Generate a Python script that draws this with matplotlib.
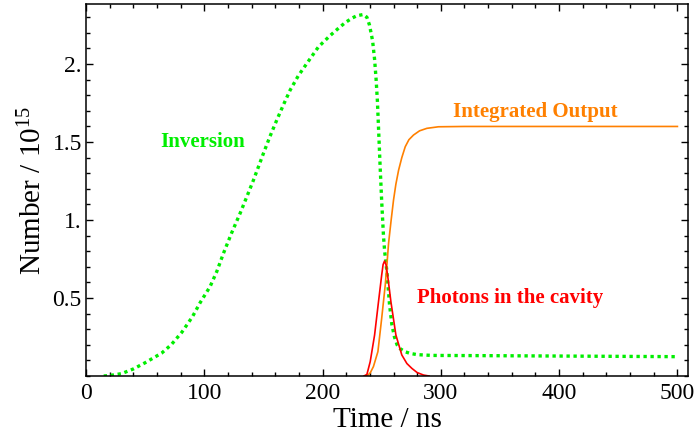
import matplotlib
matplotlib.use('Agg')
import matplotlib.pyplot as plt
from matplotlib.ticker import MultipleLocator, FixedLocator

plt.rcParams['font.family'] = ['Liberation Serif', 'DejaVu Serif']
plt.rcParams['mathtext.default'] = 'regular'

# inversion (green dotted)
t_inv = [15, 20, 30, 40, 50, 64, 72, 81, 90, 96.5, 104.9, 110.6, 116.2, 123, 130.3,
         136, 141.6, 150, 155.5, 161.3, 167, 172.6, 179.5, 186.7, 196.5, 206, 212,
         219, 225, 229, 234.6, 237.5, 239.7, 242.3, 244, 245.3, 246.4, 248.7, 250,
         251.5, 252.5, 254.4, 256.6, 258.6, 260.8, 263, 265.6, 270, 274, 280, 292.5,
         350, 400, 450, 500]
n_inv = [0.0, 0.003, 0.015, 0.045, 0.085, 0.147, 0.2, 0.28, 0.38, 0.47, 0.573, 0.67,
         0.786, 0.915, 1.043, 1.15, 1.256, 1.427, 1.535, 1.641, 1.74, 1.833, 1.925,
         2.004, 2.11, 2.18, 2.22, 2.265, 2.295, 2.31, 2.318, 2.30, 2.25, 2.15, 2.03,
         1.90, 1.76, 1.34, 1.12, 0.90, 0.80, 0.67, 0.46, 0.33, 0.25, 0.20, 0.175,
         0.155, 0.145, 0.137, 0.132, 0.130, 0.128, 0.126, 0.124]

# integrated output (orange)
t_out = [236, 238, 240.3, 243, 246.8, 250, 253, 254.4, 255.8, 258, 260, 262, 264.3,
         267, 269.9, 273, 276.9, 282, 288.2, 298, 320, 400, 500]
n_out = [0.0, 0.003, 0.02, 0.06, 0.156, 0.37, 0.583, 0.71, 0.85, 1.0, 1.128, 1.23,
         1.32, 1.40, 1.47, 1.515, 1.545, 1.572, 1.588, 1.598, 1.6, 1.6, 1.6]

# photons in the cavity (red)
t_ph = [235, 237.5, 240.3, 244, 247.3, 250, 251.2, 252.4, 253.6, 255, 257.8, 262,
        267, 271.3, 275.5, 280, 285.4, 290]
n_ph = [0.0, 0.01, 0.092, 0.263, 0.476, 0.647, 0.715, 0.737, 0.715, 0.647, 0.476,
        0.263, 0.135, 0.08, 0.049, 0.022, 0.006, 0.0]

fig = plt.figure(figsize=(6.95, 4.48), dpi=100)
ax = fig.add_axes([0.1237, 0.1607, 0.8663, 0.8303])

ax.plot(t_inv, n_inv, color='#00ee00', lw=2.4, linestyle=(0, (1, 1.1)))
ax.plot(t_out, n_out, color='#ff8000', lw=1.2)
ax.plot(t_ph, n_ph, color='#ff0000', lw=1.2)

ax.set_xlim(0, 509)
ax.set_ylim(0, 2.385)

ax.xaxis.set_major_locator(MultipleLocator(100))
ax.xaxis.set_minor_locator(MultipleLocator(20))
ax.yaxis.set_major_locator(FixedLocator([0.5, 1.0, 1.5, 2.0]))
ax.yaxis.set_minor_locator(MultipleLocator(0.1))
ax.set_yticklabels(['0.5', '1.', '1.5', '2.'])

ax.tick_params(which='both', direction='in', top=True, right=True, width=1.0, labelsize=17)
ax.tick_params(which='major', length=5)
ax.tick_params(which='minor', length=3)
ax.tick_params(axis='x', pad=5)
ax.tick_params(axis='y', pad=3)
for s in ax.spines.values():
    s.set_linewidth(1.1)

ax.set_xlabel('Time / ns', fontsize=21, labelpad=2)
ax.set_ylabel('Number / 10$^{15}$', fontsize=21, labelpad=4)

ax.text(99, 1.5, 'Inversion', color='#00ee00', fontsize=15, fontweight='bold',
        ha='center', va='center')
ax.text(380, 1.69, 'Integrated Output', color='#ff8000', fontsize=15, fontweight='bold',
        ha='center', va='center')
ax.text(359, 0.5, 'Photons in the cavity', color='#ff0000', fontsize=15, fontweight='bold',
        ha='center', va='center')

fig.savefig('out.png', dpi=100)
